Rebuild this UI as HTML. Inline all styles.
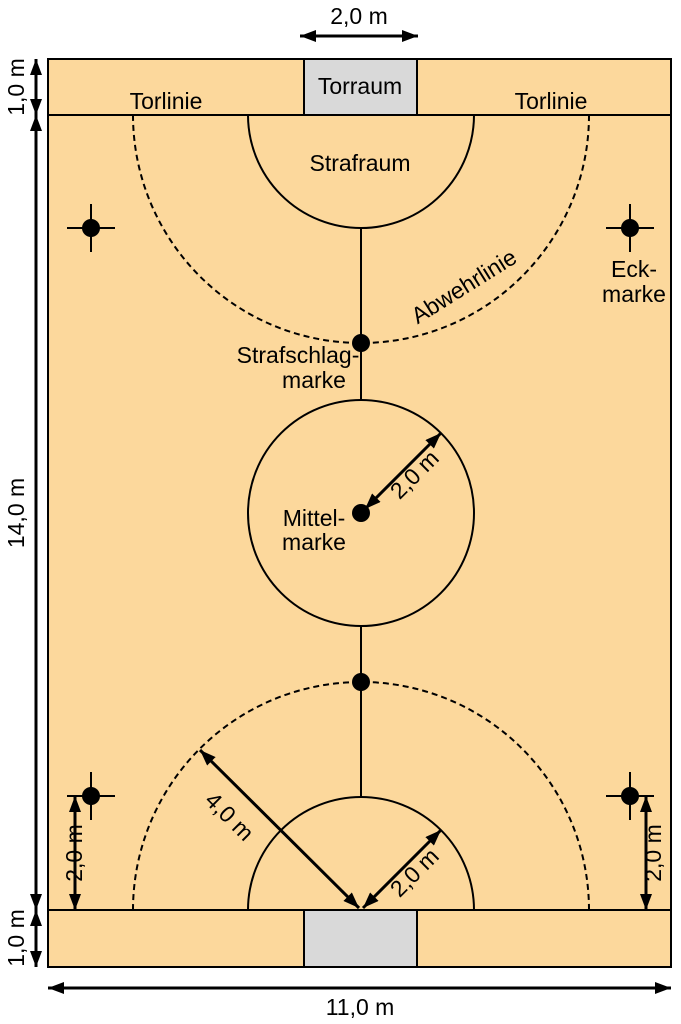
<!DOCTYPE html>
<html><head><meta charset="utf-8"><style>
html,body{margin:0;padding:0;background:#fff}
svg{display:block}
text{font-family:"Liberation Sans Narrow","Liberation Sans",sans-serif;font-size:23px;fill:#000}
</style></head><body>
<svg width="681" height="1024" viewBox="0 0 681 1024" xmlns="http://www.w3.org/2000/svg">
<defs>
<marker id="a" viewBox="0 0 16 12" refX="16" refY="6" markerWidth="16" markerHeight="12" orient="auto-start-reverse" markerUnits="userSpaceOnUse">
<path d="M0,0 L16,6 L0,12 z" fill="#000"/>
</marker>
</defs>
<rect x="48" y="59" width="623" height="908" fill="#fcd89c" stroke="#000" stroke-width="2"/>
<rect x="304" y="59" width="113" height="56" fill="#d9d9d9" stroke="#000" stroke-width="2"/>
<rect x="304" y="910" width="113" height="57" fill="#d9d9d9" stroke="#000" stroke-width="2"/>
<line x1="48" y1="115" x2="671" y2="115" stroke="#000" stroke-width="2"/>
<line x1="48" y1="910" x2="671" y2="910" stroke="#000" stroke-width="2"/>
<g fill="none" stroke="#000" stroke-width="2">
<path d="M248,115 A113,113 0 0 0 474,115"/>
<path d="M248,910 A113,113 0 0 1 474,910"/>
<circle cx="361" cy="513" r="113"/>
<line x1="361" y1="228" x2="361" y2="400"/>
<line x1="361" y1="626" x2="361" y2="797"/>
<path d="M133,115 A228,228 0 0 0 589,115" stroke-dasharray="6,4"/>
<path d="M133,910 A228,228 0 0 1 589,910" stroke-dasharray="6,4"/>
</g>
<g fill="#000">
<circle cx="361" cy="343" r="9"/><circle cx="361" cy="513" r="9"/><circle cx="361" cy="682" r="9"/>
<circle cx="91" cy="228" r="9"/><circle cx="630" cy="228" r="9"/><circle cx="91" cy="796" r="9"/><circle cx="630" cy="796" r="9"/>
</g>
<g stroke="#000" stroke-width="2">
<line x1="67" y1="228" x2="115" y2="228"/><line x1="91" y1="204" x2="91" y2="252"/>
<line x1="606" y1="228" x2="654" y2="228"/><line x1="630" y1="204" x2="630" y2="252"/>
<line x1="67" y1="796" x2="115" y2="796"/><line x1="91" y1="772" x2="91" y2="820"/>
<line x1="606" y1="796" x2="654" y2="796"/><line x1="630" y1="772" x2="630" y2="820"/>
</g>
<g stroke="#000" stroke-width="3" fill="none" marker-start="url(#a)" marker-end="url(#a)">
<line x1="300" y1="36" x2="418" y2="36"/>
<line x1="36" y1="59" x2="36" y2="115"/>
<line x1="36" y1="115" x2="36" y2="910"/>
<line x1="36" y1="910" x2="36" y2="967"/>
<line x1="48" y1="988" x2="671" y2="988"/>
<line x1="75" y1="796" x2="75" y2="910"/>
<line x1="646" y1="796" x2="646" y2="910"/>
<line x1="365" y1="509" x2="441" y2="433"/>
<line x1="200" y1="750" x2="359" y2="908"/>
<line x1="363" y1="908" x2="441" y2="830"/>
</g>
<text x="359" y="24" text-anchor="middle">2,0 m</text>
<text x="360" y="94" text-anchor="middle">Torraum</text>
<text x="166" y="109" text-anchor="middle">Torlinie</text>
<text x="551" y="109" text-anchor="middle">Torlinie</text>
<text x="360" y="171" text-anchor="middle">Strafraum</text>
<text x="298" y="363" text-anchor="middle">Strafschlag-</text>
<text x="314" y="388" text-anchor="middle">marke</text>
<text x="314" y="526" text-anchor="middle">Mittel-</text>
<text x="314" y="550" text-anchor="middle">marke</text>
<text x="634" y="277" text-anchor="middle">Eck-</text>
<text x="634" y="302" text-anchor="middle">marke</text>
<text x="360" y="1015" text-anchor="middle">11,0 m</text>
<text transform="translate(468,293) rotate(-32)" text-anchor="middle">Abwehrlinie</text>
<text transform="translate(420,480) rotate(-45)" text-anchor="middle">2,0 m</text>
<text transform="translate(420,878) rotate(-45)" text-anchor="middle">2,0 m</text>
<text transform="translate(224,822) rotate(45)" text-anchor="middle">4,0 m</text>
<text transform="translate(24,87) rotate(-90)" text-anchor="middle">1,0 m</text>
<text transform="translate(24,513) rotate(-90)" text-anchor="middle">14,0 m</text>
<text transform="translate(24,938) rotate(-90)" text-anchor="middle">1,0 m</text>
<text transform="translate(82,853) rotate(-90)" text-anchor="middle">2,0 m</text>
<text transform="translate(661,853) rotate(-90)" text-anchor="middle">2,0 m</text>
</svg>
</body></html>
